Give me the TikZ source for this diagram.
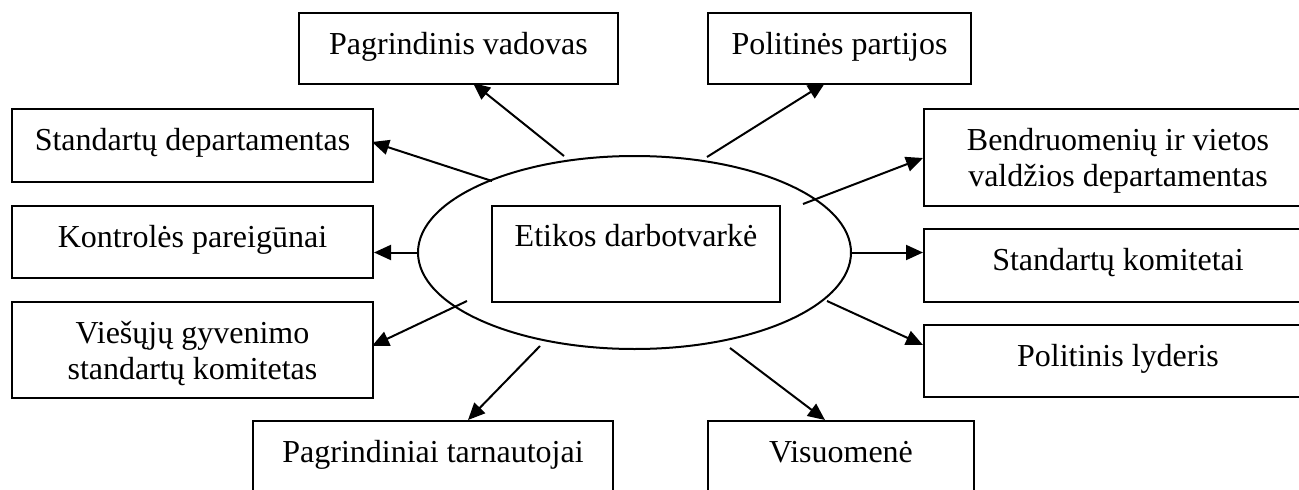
\documentclass[tikz,border=0pt]{standalone}
\usepackage{fontspec}
\setmainfont{Liberation Serif}
\usetikzlibrary{shapes.geometric,arrows.meta}
\begin{document}
\begin{tikzpicture}[x=1pt,y=-1pt,
  box/.style={draw, line width=2pt, rectangle, anchor=north west, inner xsep=0pt, inner ysep=0pt,
    text height=41pt, font=\fontsize{32}{36}\selectfont, align=center},
  arr/.style={line width=2pt, -{Triangle[length=17pt,width=15pt]}}]
\useasboundingbox (0,0) rectangle (1299,490);
\clip (0,0) rectangle (1299,490);
% outer boxes
\node[box, minimum width=319pt, text depth=30pt] (vad) at (298,12) {Pagrindinis vadovas};
\node[box, minimum width=263pt, text depth=30pt] (part) at (707,12) {Politinės partijos};
\node[box, minimum width=361pt, text depth=32pt] (sdep) at (11,108) {Standartų departamentas};
\node[box, minimum width=361pt, text depth=31pt] (kont) at (11,205) {Kontrolės pareigūnai};
\node[box, minimum width=361pt, text depth=55pt] (vies) at (11,301)
  {\begin{tabular}[t]{@{}c@{}}Viešųjų gyvenimo\\standartų komitetas\end{tabular}};
\node[box, minimum width=388pt, text depth=56pt] (bend) at (923,108)
  {\begin{tabular}[t]{@{}c@{}}Bendruomenių ir vietos\\valdžios departamentas\end{tabular}};
\node[box, minimum width=388pt, text depth=32pt] (skom) at (923,228) {Standartų komitetai};
\node[box, minimum width=388pt, text depth=31pt] (lyd) at (923,324) {Politinis lyderis};
\node[box, minimum width=360pt, text depth=40pt] (tarn) at (252,420) {Pagrindiniai tarnautojai};
\node[box, minimum width=266pt, text depth=40pt] (visu) at (707,420) {Visuomenė};
% centre
\node[draw, ellipse, line width=2pt, minimum width=433pt, minimum height=193pt, inner sep=0pt] (ell) at (634.5,252.5) {};
\node[box, minimum width=288pt, text height=40pt, text depth=56pt] (etik) at (491,205) {Etikos darbotvarkė};
% arrow ends
\coordinate (s1) at (564,156); \coordinate (t1) at (473,83);
\coordinate (s2) at (707,157); \coordinate (t2) at (825,83);
\coordinate (s3) at (492,181); \coordinate (t3) at (372,142);
\coordinate (s5) at (467,301); \coordinate (t5) at (372,346);
\coordinate (s6) at (540,346); \coordinate (t6) at (468,420);
\coordinate (s7) at (730,348); \coordinate (t7) at (825,420);
\coordinate (s8) at (827,301); \coordinate (t8) at (923,345);
\coordinate (s10) at (803,204); \coordinate (t10) at (923,158);
% arrows
\draw[arr] (s1) -- (t1);
\draw[arr] (s2) -- (t2);
\draw[arr] (s3) -- (t3);
\draw[arr] (ell.west) -- (ell.west -| kont.east);
\draw[arr] (s5) -- (t5);
\draw[arr] (s6) -- (t6);
\draw[arr] (s7) -- (t7);
\draw[arr] (s8) -- (t8);
\draw[arr] (ell.east) -- (ell.east -| skom.west);
\draw[arr] (s10) -- (t10);
\end{tikzpicture}
\end{document}
